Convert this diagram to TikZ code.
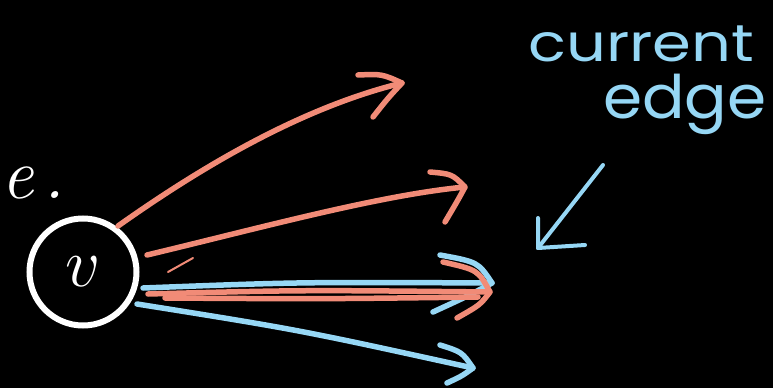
\documentclass[tikz,border=0pt]{standalone}
\usepackage{graphicx}
\usepackage{fontspec}
\newfontfamily\hand{Poppins}
\definecolor{salmon}{RGB}{241,139,119}
\definecolor{skyb}{RGB}{150,215,245}
\begin{document}
\begin{tikzpicture}[x=1pt,y=-1pt,
  sal/.style={draw=salmon, line width=5.5pt, line cap=round, line join=round},
  blu/.style={draw=skyb, line width=5.5pt, line cap=round, line join=round},
  lbl/.style={text=skyb, inner sep=0pt, font=\hand}]
\fill[black] (0,0) rectangle (773,388);
\useasboundingbox (0,0) rectangle (773,388);
% vertex
\node[circle, draw=white, line width=6pt, minimum size=107pt, inner sep=0pt, text=white] (v) at (83,272) {\scalebox{4}{\LARGE$v$}};
\node[text=white, anchor=base west, inner sep=0pt] (e) at (1,198) {\fontsize{72}{72}\selectfont\itshape e\hspace{10pt}.};
% coordinates
\coordinate (s1) at (118,226); \coordinate (t1) at (402,83);
\coordinate (s2) at (147,255); \coordinate (t2) at (465,187);
\coordinate (s3) at (143,288); \coordinate (t3) at (492,283);
\coordinate (s4) at (148,294); \coordinate (t4) at (490,292);
\coordinate (s4b) at (165,298); \coordinate (t4b) at (478,297);
\coordinate (s5) at (137,304); \coordinate (t5) at (473,368);
\coordinate (m1) at (168,272); \coordinate (m2) at (193,258);
% arrow 1
\draw[sal] (s1) .. controls (200,168) and (300,108) .. (t1);
\draw[sal] (358,75) .. controls (382,74) .. (t1) .. controls (388,98) .. (373,117);
% arrow 2
\draw[sal] (s2) .. controls (260,228) and (380,195) .. (t2);
\draw[sal] (430,172) .. controls (452,174) .. (t2) .. controls (458,200) .. (445,222);
% blue middle arrow
\draw[blu] (s3) .. controls (300,282) .. (t3);
\draw[blu] (440,255) .. controls (478,262) .. (t3) .. controls (470,295) .. (433,312);
% salmon middle arrow
\draw[sal] (s4) .. controls (300,290) .. (t4);
\draw[sal] (s4b) .. controls (320,299) .. (t4b);
\draw[sal] (443,262) .. controls (478,270) .. (t4) .. controls (480,305) .. (457,318);
% blue lower arrow
\draw[blu] (s5) .. controls (300,330) .. (t5);
\draw[blu] (440,345) .. controls (462,352) .. (t5) .. controls (462,376) .. (447,383);
% small stroke
\draw[salmon, line width=2pt, line cap=round] (m1) -- (m2);
% label
\node[lbl, anchor=base west, xscale=1.2] (cur) at (528,61) {\fontsize{52}{52}\selectfont current};
\node[lbl, anchor=base west, xscale=1.05] (edg) at (603,118) {\fontsize{60}{60}\selectfont edge};
\coordinate (p1) at (603,165); \coordinate (p2) at (538,248);
\draw[blu, line width=4pt] (p1) -- (p2);
\draw[blu, line width=4pt] (538,218) -- (p2) -- (585,245);
\end{tikzpicture}
\end{document}
